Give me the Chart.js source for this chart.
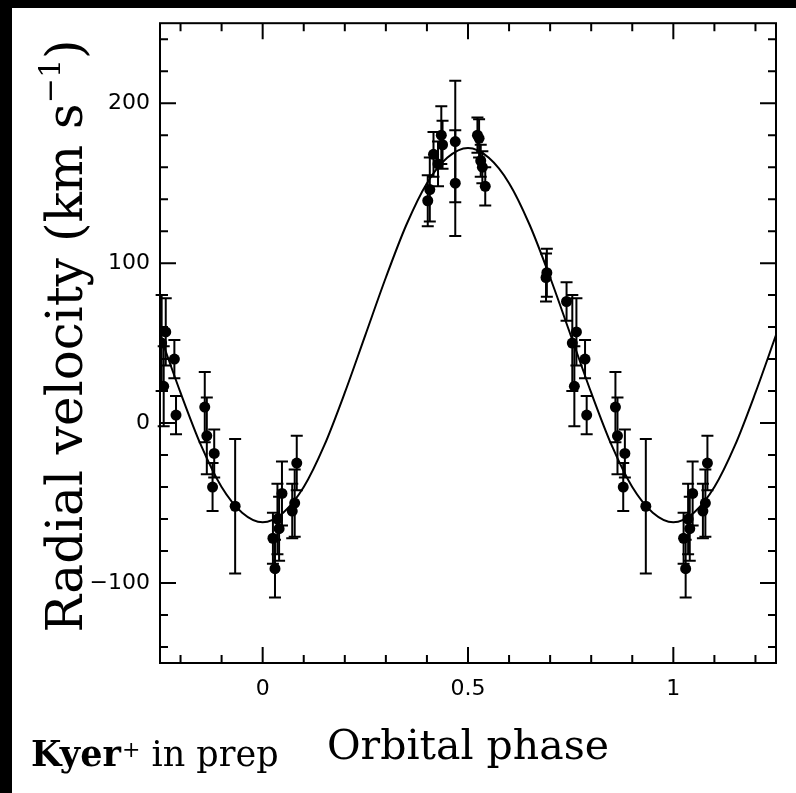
<!DOCTYPE html>
<html>
<head>
<meta charset="utf-8">
<title>Radial velocity curve</title>
<script src="https://cdn.jsdelivr.net/npm/chart.js@4.4.1/dist/chart.umd.min.js"></script>
<style>
  html, body { margin: 0; padding: 0; background: #fff; }
  #wrap { width: 796px; height: 793px; position: relative; }
</style>
</head>
<body>
<div id="wrap"><canvas id="rvChart"></canvas></div>
<script>
// observed points, phase folded on [0,1), RV and error in km/s
const obsPhase = [0.025, 0.030, 0.036, 0.040, 0.047, 0.072, 0.078, 0.083,
                  0.402, 0.407, 0.416, 0.427, 0.435, 0.438, 0.469, 0.469,
                  0.523, 0.527, 0.531, 0.535, 0.542,
                  0.690, 0.692, 0.740, 0.754, 0.759, 0.764, 0.785, 0.789,
                  0.859, 0.864, 0.878, 0.882, 0.933];
const obsRV    = [-72, -91, -60, -66, -44, -55, -50, -25,
                  139, 146, 168, 162, 180, 174, 176, 150,
                  180, 178, 164, 160, 148,
                  91, 94, 76, 50, 23, 57, 40, 5,
                  10, -8, -40, -19, -52];
const obsErr   = [16, 18, 22, 20, 20, 17, 21, 17,
                  16, 20, 14, 14, 18, 15, 38, 33,
                  11, 12, 10, 10, 12,
                  15, 15, 12, 30, 25, 21, 12, 12,
                  22, 24, 15, 15, 42];

// orbit model
const modelPhase = [-0.25, -0.20, -0.15, -0.10, -0.05, 0.00, 0.05, 0.10, 0.15, 0.20,
                    0.25, 0.30, 0.35, 0.40, 0.45, 0.50, 0.55, 0.60, 0.65, 0.70,
                    0.75, 0.80, 0.85, 0.90, 0.95, 1.00, 1.05, 1.10, 1.15, 1.20, 1.25];
const modelRV    = [55, 19, -14, -40, -56, -62, -56, -40, -14, 19,
                    55, 91, 124, 150, 166, 172, 166, 150, 124, 91,
                    55, 19, -14, -40, -56, -62, -56, -40, -14, 19, 55];

// tick marks (all) and the ones that carry a label
const xTickValues = [-0.2, -0.1, 0, 0.1, 0.2, 0.3, 0.4, 0.5, 0.6, 0.7, 0.8, 0.9, 1, 1.1, 1.2];
const yTickValues = [-140, -120, -100, -80, -60, -40, -20, 0, 20, 40, 60, 80, 100,
                     120, 140, 160, 180, 200, 220, 240];
const xLabelled = [0, 0.5, 1];
const yLabelled = [-100, 0, 100, 200];
const X_MIN = -0.25, X_MAX = 1.25, Y_MIN = -150, Y_MAX = 250;

// plot each folded point once per cycle inside the window
const points = [];
obsPhase.forEach((p, i) => {
    [-1, 0, 1].forEach(k => {
        const x = p + k;
        if (x >= X_MIN && x <= X_MAX) points.push({ x: x, y: obsRV[i], err: obsErr[i] });
    });
});
const model = modelPhase.map((p, i) => ({ x: p, y: modelRV[i] }));

function isOn(list, v) { return list.some(t => Math.abs(t - v) < 1e-6); }

const errorBars = {
    id: 'errorBars',
    beforeDatasetsDraw(chart) {
        const { ctx, scales: { x, y } } = chart;
        ctx.save();
        ctx.strokeStyle = '#000';
        ctx.lineWidth = 2;
        points.forEach(pt => {
            const px = x.getPixelForValue(pt.x);
            const y1 = y.getPixelForValue(pt.y - pt.err);
            const y2 = y.getPixelForValue(pt.y + pt.err);
            ctx.beginPath();
            ctx.moveTo(px, y1); ctx.lineTo(px, y2);
            ctx.moveTo(px - 6, y1); ctx.lineTo(px + 6, y1);
            ctx.moveTo(px - 6, y2); ctx.lineTo(px + 6, y2);
            ctx.stroke();
        });
        ctx.restore();
    }
};

const frame = {
    id: 'frame',
    beforeDraw(chart) {
        const ctx = chart.ctx;
        ctx.save();
        ctx.fillStyle = '#fff';
        ctx.fillRect(0, 0, chart.width, chart.height);
        ctx.fillStyle = '#000';
        ctx.fillRect(0, 0, 12, chart.height);
        ctx.fillRect(0, 0, chart.width, 8);
        ctx.restore();
    },
    afterDraw(chart) {
        const { ctx, chartArea: a, scales: { x, y } } = chart;
        ctx.save();
        ctx.strokeStyle = '#000';
        ctx.lineWidth = 2;
        ctx.strokeRect(a.left, a.top, a.right - a.left, a.bottom - a.top);
        ctx.beginPath();
        x.ticks.forEach(t => {
            const px = x.getPixelForValue(t.value);
            const len = isOn(xLabelled, t.value) ? 16 : 8;
            ctx.moveTo(px, a.bottom); ctx.lineTo(px, a.bottom - len);
            ctx.moveTo(px, a.top); ctx.lineTo(px, a.top + len);
        });
        y.ticks.forEach(t => {
            const py = y.getPixelForValue(t.value);
            const len = isOn(yLabelled, t.value) ? 16 : 8;
            ctx.moveTo(a.left, py); ctx.lineTo(a.left + len, py);
            ctx.moveTo(a.right, py); ctx.lineTo(a.right - len, py);
        });
        ctx.stroke();

        // axis titles
        ctx.fillStyle = '#000';
        ctx.textAlign = 'left';
        ctx.textBaseline = 'alphabetic';
        ctx.save();
        ctx.translate(82, 336);
        ctx.rotate(-Math.PI / 2);
        const big = '50px "DejaVu Serif"', small = '30px "DejaVu Serif"';
        ctx.font = big;
        const t1 = 'Radial velocity (km s', t3 = ')';
        const w1 = ctx.measureText(t1).width, w3 = ctx.measureText(t3).width;
        ctx.font = small;
        const w2 = ctx.measureText('\u22121').width;
        const sx = -(w1 + w2 + w3) / 2;
        ctx.font = big;
        ctx.fillText(t1, sx, 0);
        ctx.font = small;
        ctx.fillText('\u22121', sx + w1, -22);
        ctx.font = big;
        ctx.fillText(t3, sx + w1 + w2, 0);
        ctx.restore();

        ctx.font = '41px "DejaVu Serif"';
        ctx.textAlign = 'center';
        ctx.fillText('Orbital phase', (a.left + a.right) / 2, 759);

        ctx.textAlign = 'left';
        ctx.font = 'bold 35px "DejaVu Serif"';
        ctx.fillText('Kyer', 31, 766);
        let kx = 31 + ctx.measureText('Kyer').width;
        ctx.font = '22px "DejaVu Serif"';
        ctx.fillText('+', kx + 1, 757);
        kx += ctx.measureText('+').width + 1;
        ctx.font = '35px "DejaVu Serif"';
        ctx.fillText(' in prep', kx, 766);
        ctx.restore();
    }
};

new Chart(document.getElementById('rvChart'), {
    data: {
        datasets: [
            {
                type: 'line',
                data: model,
                borderColor: '#000',
                borderWidth: 2,
                pointRadius: 0,
                cubicInterpolationMode: 'monotone',
                fill: false,
                order: 2
            },
            {
                type: 'scatter',
                data: points,
                backgroundColor: '#000',
                borderWidth: 0,
                pointRadius: 5.5,
                order: 1
            }
        ]
    },
    options: {
        responsive: true,
        maintainAspectRatio: false,
        animation: false,
        events: [],
        layout: { padding: { top: 22, right: 20, left: 0, bottom: 0 } },
        plugins: { legend: { display: false }, tooltip: { enabled: false } },
        scales: {
            x: {
                type: 'linear',
                min: X_MIN, max: X_MAX,
                grid: { display: false, drawTicks: false },
                border: { display: false },
                afterBuildTicks(s) { s.ticks = xTickValues.map(v => ({ value: v })); },
                afterFit(s) { s.height = 130; },
                ticks: {
                    autoSkip: false,
                    maxRotation: 0,
                    padding: 13,
                    color: '#000',
                    font: { family: 'DejaVu Sans', size: 22 },
                    callback: v => isOn(xLabelled, v) ? String(v) : ''
                }
            },
            y: {
                type: 'linear',
                min: Y_MIN, max: Y_MAX,
                grid: { display: false, drawTicks: false },
                border: { display: false },
                afterBuildTicks(s) { s.ticks = yTickValues.map(v => ({ value: v })); },
                afterFit(s) { s.width = 160; },
                ticks: {
                    autoSkip: false,
                    padding: 10,
                    color: '#000',
                    font: { family: 'DejaVu Sans', size: 22 },
                    callback: v => isOn(yLabelled, v) ? (v < 0 ? '\u2212' + Math.abs(v) : String(v)) : ''
                }
            }
        }
    },
    plugins: [frame, errorBars]
});
</script>
</body>
</html>
